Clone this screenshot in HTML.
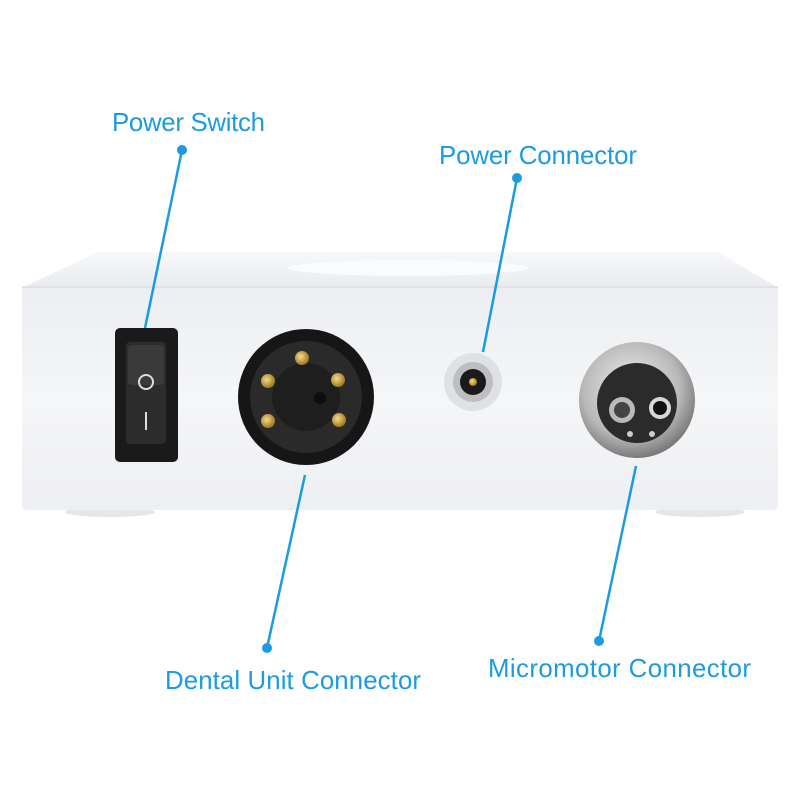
<!DOCTYPE html>
<html><head><style>
html,body{margin:0;padding:0;background:#fff;}
svg{display:block;}
text{font-family:"Liberation Sans",sans-serif;fill:#1b9be0;font-size:25.8px;}
</style></head><body>
<svg width="800" height="800" viewBox="0 0 800 800">
<defs>
<linearGradient id="front" x1="0" y1="0" x2="0" y2="1">
<stop offset="0" stop-color="#eceef1"/><stop offset="0.5" stop-color="#f5f6f8"/><stop offset="1" stop-color="#eeeff2"/>
</linearGradient>
<linearGradient id="top" x1="0" y1="0" x2="0" y2="1">
<stop offset="0" stop-color="#f7f8fa"/><stop offset="1" stop-color="#e9ebee"/>
</linearGradient>
<radialGradient id="silver" cx="0.45" cy="0.4" r="0.6">
<stop offset="0" stop-color="#f0f0f0"/><stop offset="0.7" stop-color="#b8b8b8"/><stop offset="1" stop-color="#7a7a7a"/>
</radialGradient>
<radialGradient id="gold" cx="0.4" cy="0.4" r="0.6">
<stop offset="0" stop-color="#f5dc8a"/><stop offset="1" stop-color="#a07820"/>
</radialGradient>
</defs>
<ellipse cx="110" cy="512" rx="45" ry="5" fill="#e4e6ea"/>
<ellipse cx="700" cy="512" rx="45" ry="5" fill="#e4e6ea"/>
<polygon points="98,252 718,252 778,288 22,288" fill="url(#top)"/>
<ellipse cx="408" cy="268" rx="120" ry="8" fill="#fafbfc"/>
<rect x="22" y="286" width="756" height="224" rx="4" fill="url(#front)"/>
<line x1="22" y1="287" x2="778" y2="287" stroke="#dfe1e5" stroke-width="2"/>
<rect x="115" y="328" width="63" height="134" rx="5" fill="#1a1a1a"/>
<rect x="126" y="342" width="40" height="102" rx="4" fill="#2c2c2c"/>
<rect x="128" y="345" width="36" height="40" rx="4" fill="#3a3a3a"/>
<ellipse cx="146" cy="382" rx="7" ry="7" fill="none" stroke="#ddd" stroke-width="2"/>
<line x1="146" y1="412" x2="146" y2="430" stroke="#ddd" stroke-width="2"/>
<circle cx="306" cy="397" r="68" fill="#161616"/>
<circle cx="306" cy="397" r="56" fill="#2a2a2a"/>
<circle cx="306" cy="397" r="34" fill="#1e1e1e"/>
<circle cx="302" cy="358" r="7" fill="url(#gold)"/>
<circle cx="268" cy="381" r="7" fill="url(#gold)"/>
<circle cx="338" cy="380" r="7" fill="url(#gold)"/>
<circle cx="268" cy="421" r="7" fill="url(#gold)"/>
<circle cx="339" cy="420" r="7" fill="url(#gold)"/>
<circle cx="320" cy="398" r="6" fill="#0d0d0d"/>
<circle cx="473" cy="382" r="29" fill="#e0e1e4"/>
<circle cx="473" cy="382" r="20" fill="#bdbec2"/>
<circle cx="473" cy="382" r="13" fill="#1a1a1a"/>
<circle cx="473" cy="382" r="4" fill="url(#gold)"/>
<circle cx="637" cy="400" r="58" fill="url(#silver)"/>
<circle cx="637" cy="403" r="40" fill="#2b2b2b"/>
<circle cx="622" cy="410" r="13" fill="#b9b9b9"/>
<circle cx="622" cy="410" r="8" fill="#444"/>
<circle cx="660" cy="408" r="11" fill="#d8d8d8"/>
<circle cx="660" cy="408" r="7" fill="#111"/>
<circle cx="630" cy="434" r="3" fill="#ccc"/>
<circle cx="652" cy="434" r="3" fill="#ccc"/>
<g stroke="#1b9be0" stroke-width="2.5" fill="none">
<line x1="182" y1="150" x2="145" y2="328"/>
<line x1="517" y1="178" x2="483" y2="352"/>
<line x1="305" y1="475" x2="267" y2="648"/>
<line x1="636" y1="466" x2="599" y2="641"/>
</g>
<g fill="#1b9be0">
<circle cx="182" cy="150" r="5"/>
<circle cx="517" cy="178" r="5"/>
<circle cx="267" cy="648" r="5"/>
<circle cx="599" cy="641" r="5"/>
</g>
<text x="112" y="131" textLength="153">Power Switch</text>
<text x="439" y="164" textLength="198">Power Connector</text>
<text x="165" y="689" textLength="256">Dental Unit Connector</text>
<text x="488" y="677" textLength="263">Micromotor Connector</text>
</svg>
</body></html>
